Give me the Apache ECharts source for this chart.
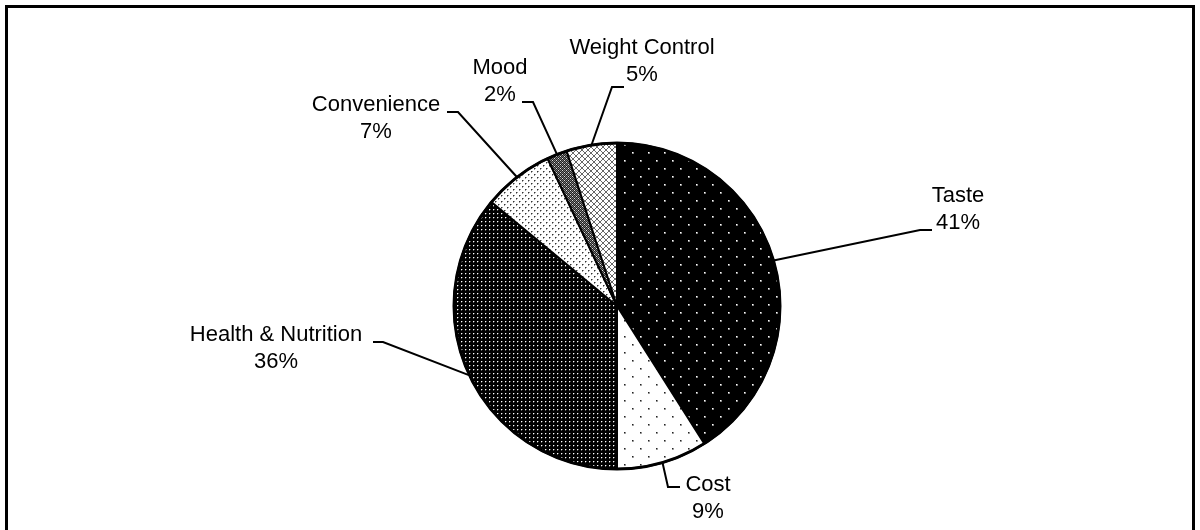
<!DOCTYPE html>
<html>
<head>
<meta charset="utf-8">
<script src="https://cdn.jsdelivr.net/npm/echarts@6/dist/echarts.min.js"></script>
<style>
  html, body { margin: 0; padding: 0; background: #fff; }
  #chart { width: 1200px; height: 530px; }
</style>
</head>
<body>
<div id="chart"></div>
<script>
// slices, clockwise from 12 o'clock
const categories = ['Taste', 'Cost', 'Health & Nutrition', 'Convenience', 'Mood', 'Weight Control'];
const shares = [41, 9, 36, 7, 2, 5];

// where each label sits (text block centre) and the bend + end of its leader
const labelAt = [[958, 209], [708, 498], [276, 348], [376, 118], [500, 81], [642, 61]];
const leaderBend = [
    [[920, 230], [932, 230]],
    [[668, 487], [680, 487]],
    [[383, 342], [373, 342]],
    [[458, 112], [447, 112]],
    [[533, 102], [522, 102]],
    [[612, 87], [624, 87]]
];

// little bitmap tiles for the dotted / hatched fills
function tile(w, h, bg, dots) {
    const c = document.createElement('canvas');
    c.width = w; c.height = h;
    const g = c.getContext('2d');
    g.fillStyle = bg;
    g.fillRect(0, 0, w, h);
    dots.forEach(d => {
        g.fillStyle = d[2];
        g.fillRect(d[0], d[1], 1, 1);
    });
    return { image: c, repeat: 'repeat' };
}

function lattice(w, h, fn) {
    const dots = [];
    for (let y = 0; y < h; y++) {
        for (let x = 0; x < w; x++) {
            const col = fn(x, y);
            if (col) dots.push([x, y, col]);
        }
    }
    return dots;
}

const fills = [
    // Taste: black, sparse white dots
    tile(16, 16, '#000', [[0, 0, '#fff'], [1, 0, '#999'], [0, 1, '#999'], [1, 1, '#777'],
                          [8, 8, '#fff'], [9, 8, '#999'], [8, 9, '#999'], [9, 9, '#777']]),
    // Cost: white, sparse dark dots
    tile(16, 16, '#fff', [[0, 0, '#222'], [1, 0, '#888'], [0, 1, '#888'], [1, 1, '#aaa'],
                          [8, 8, '#222'], [9, 8, '#888'], [8, 9, '#888'], [9, 9, '#aaa']]),
    // Health & Nutrition: black, dense white dots
    tile(4, 4, '#000', [[1, 1, '#fff'], [2, 1, '#555'], [1, 2, '#555']]),
    // Convenience: white, dense dark dots
    tile(6, 6, '#fff', [[0, 0, '#333'], [1, 0, '#999'], [0, 1, '#999'],
                        [3, 3, '#333'], [4, 3, '#999'], [3, 4, '#999']]),
    // Mood: dark cross hatch
    tile(4, 4, '#222', lattice(4, 4, (x, y) => (x === 0 && y === 0) || (x === 2 && y === 2) ? '#ddd' : ((x + y) % 2 === 0 ? '#777' : null))),
    // Weight Control: light diamond lattice
    tile(6, 6, '#fff', lattice(6, 6, (x, y) => (x === y || x === 5 - y) ? '#666' : null))
];

const chart = echarts.init(document.getElementById('chart'), null, { renderer: 'canvas' });

const option = {
    animation: false,
    backgroundColor: '#fff',
    textStyle: { fontFamily: 'Liberation Sans, Arial, sans-serif' },
    graphic: [{
        type: 'rect',
        shape: { x: 6.5, y: 6.5, width: 1187, height: 600 },
        style: { fill: 'none', stroke: '#000', lineWidth: 3 },
        silent: true
    }],
    series: [{
        type: 'pie',
        center: [617, 306],
        radius: 163,
        startAngle: 90,
        clockwise: true,
        avoidLabelOverlap: false,
        data: categories.map((name, i) => ({
            name: name,
            value: shares[i],
            itemStyle: { color: fills[i] }
        })),
        itemStyle: { borderColor: '#000', borderWidth: 2 },
        label: {
            show: true,
            position: 'outside',
            formatter: p => p.name + '\n' + p.value + '%',
            color: '#000',
            fontSize: 22,
            lineHeight: 27,
            align: 'center',
            fontFamily: 'Liberation Sans, Arial, sans-serif'
        },
        labelLine: {
            show: true,
            length: 20,
            length2: 10,
            lineStyle: { color: '#000', width: 2 }
        },
        labelLayout: function (p) {
            const i = p.dataIndex;
            const start = p.labelLinePoints ? p.labelLinePoints[0] : leaderBend[i][0];
            return {
                x: labelAt[i][0],
                y: labelAt[i][1],
                align: 'center',
                verticalAlign: 'middle',
                labelLinePoints: [start, leaderBend[i][0], leaderBend[i][1]]
            };
        },
        emphasis: { disabled: true }
    }, {
        // thicker outer rim
        type: 'pie',
        center: [617, 306],
        radius: 163,
        silent: true,
        label: { show: false },
        labelLine: { show: false },
        data: [{ value: 1, name: 'rim' }],
        itemStyle: { color: 'rgba(0,0,0,0)', borderColor: '#000', borderWidth: 3 },
        emphasis: { disabled: true }
    }]
};

chart.setOption(option);
</script>
</body>
</html>
